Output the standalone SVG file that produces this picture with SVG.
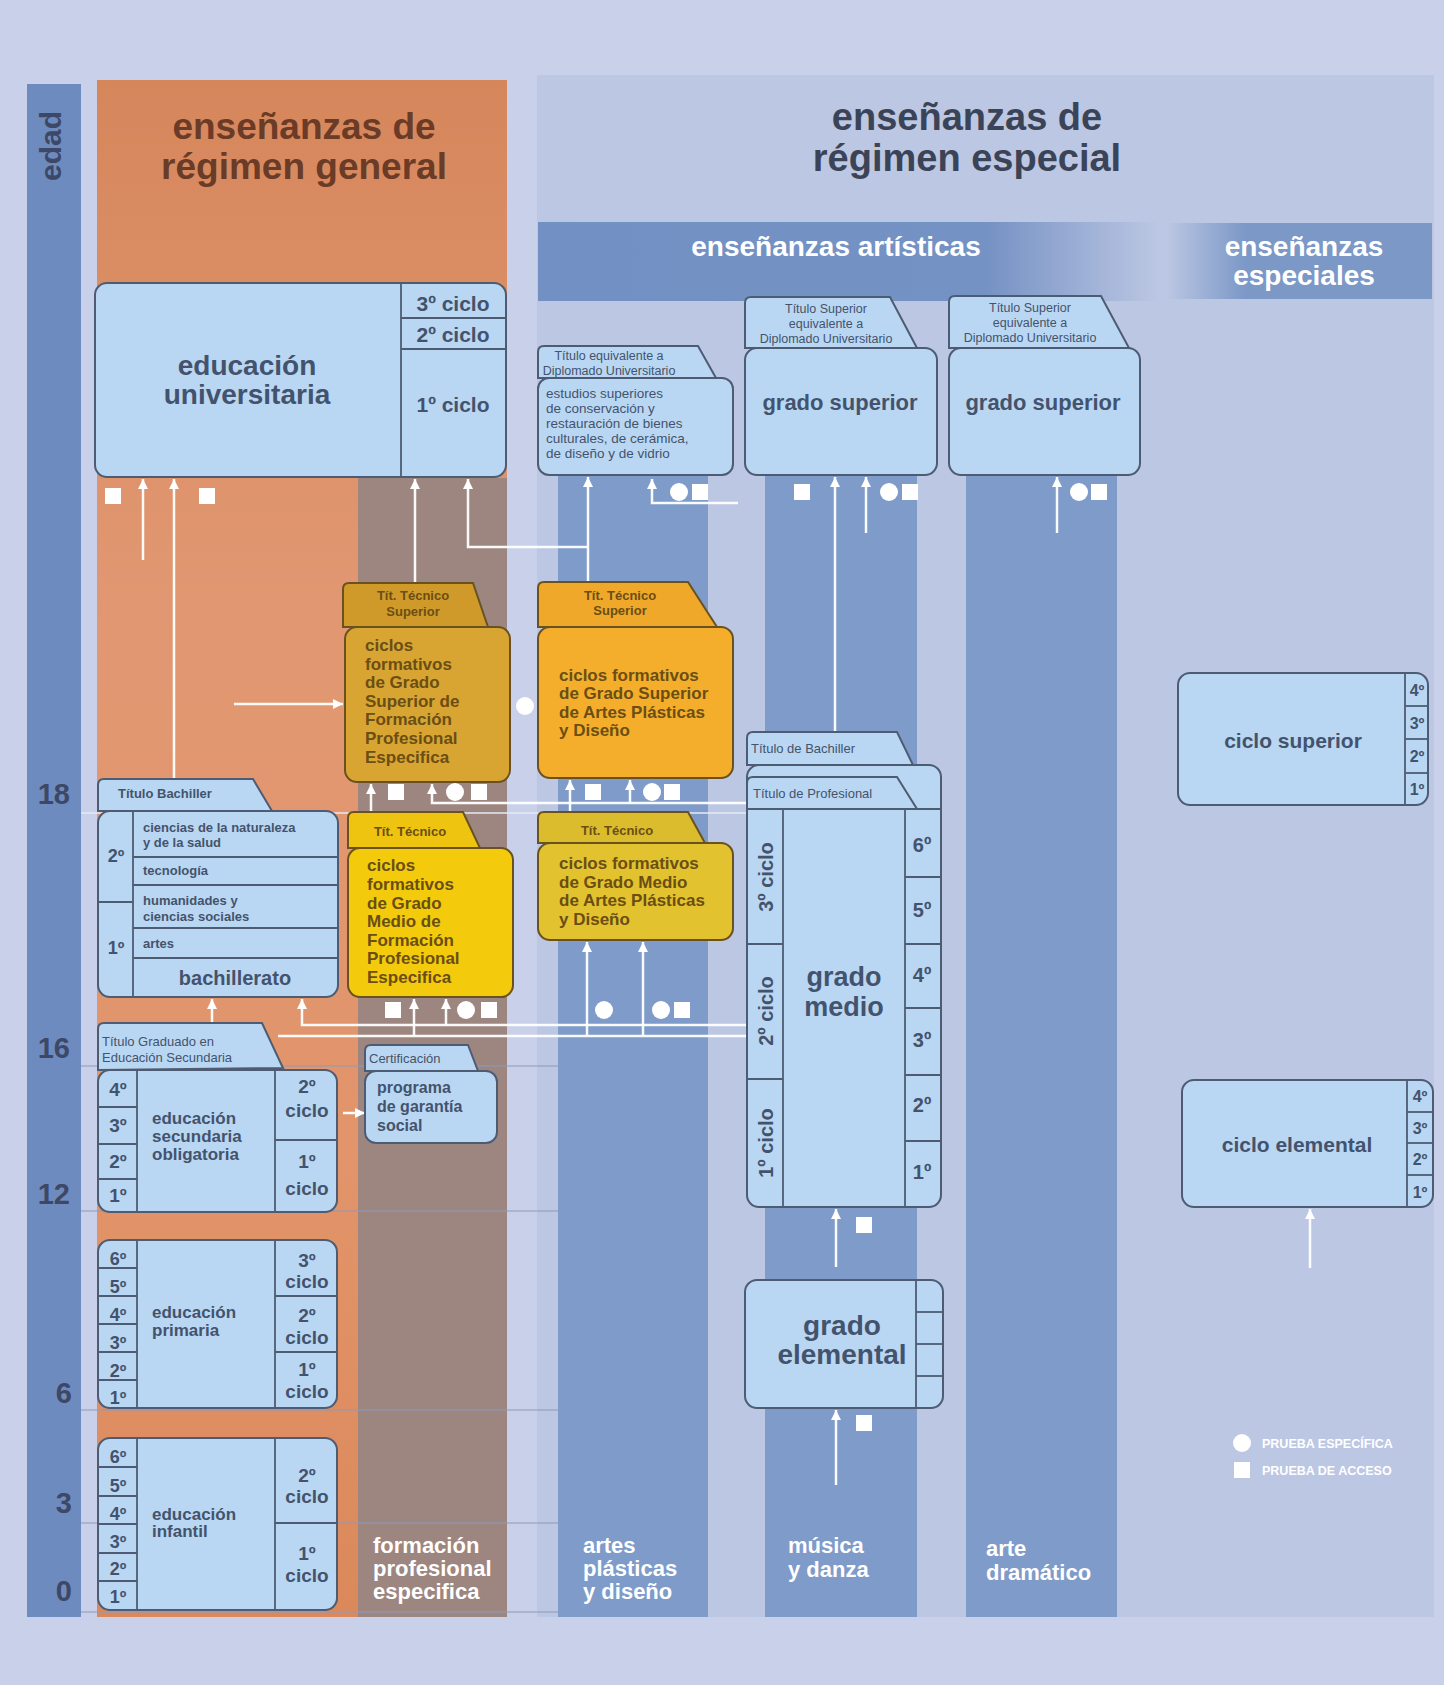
<svg xmlns="http://www.w3.org/2000/svg" width="1444" height="1685" viewBox="0 0 1444 1685">
<defs>
<style>
.t{font-family:"Liberation Sans",Arial,sans-serif;font-weight:bold}
.n{font-family:"Liberation Sans",Arial,sans-serif;font-weight:normal}
.box{fill:#b9d7f2;stroke:#4d5c73;stroke-width:2}
.dv{stroke:#4d5c73;stroke-width:1.8;fill:none}
.dk{fill:#44536d}
.yt{fill:#6a4e14}
.ys{stroke:#6a5220;stroke-width:2}
.wt{fill:#ffffff}
.conn{stroke:#ffffff;stroke-width:2.5;fill:none;stroke-opacity:0.95}
.mk{fill:#ffffff}
.age{stroke:#8e9aba;stroke-width:1.2}
</style>
<linearGradient id="gOr" x1="0" y1="0" x2="0" y2="1">
<stop offset="0" stop-color="#d6865b"/>
<stop offset="0.35" stop-color="#e19872"/>
<stop offset="0.7" stop-color="#e2946a"/>
<stop offset="1" stop-color="#db895b"/>
</linearGradient>
<linearGradient id="gArt" x1="0" y1="0" x2="1" y2="0">
<stop offset="0" stop-color="#7290c3"/>
<stop offset="0.72" stop-color="#7592c4"/>
<stop offset="1" stop-color="#7592c4" stop-opacity="0"/>
</linearGradient>
<linearGradient id="gEsp" x1="0" y1="0" x2="1" y2="0">
<stop offset="0" stop-color="#7b98c7" stop-opacity="0"/>
<stop offset="0.3" stop-color="#7b98c7"/>
<stop offset="1" stop-color="#7b98c7"/>
</linearGradient>
<marker id="ah" markerUnits="userSpaceOnUse" markerWidth="10" markerHeight="10" viewBox="0 0 10 10" refX="10" refY="5" orient="auto">
<path d="M0,0 L10,5 L0,10 z" fill="#ffffff"/>
</marker>
</defs>

<!-- background -->
<rect x="0" y="0" width="1444" height="1685" fill="#c9d0e9"/>
<rect x="537" y="75" width="897" height="1542" fill="#bcc7e3"/>

<!-- edad bar -->
<g id="edad">
<rect x="27" y="84" width="54" height="1533" fill="#6e8bbf"/>
<text class="t" font-size="30" fill="#3c4866" text-anchor="middle" transform="translate(61,146) rotate(-90)">edad</text>
<g class="t" font-size="29" fill="#3c4866" text-anchor="end">
<text x="70" y="804">18</text>
<text x="70" y="1058">16</text>
<text x="70" y="1204">12</text>
<text x="72" y="1403">6</text>
<text x="72" y="1513">3</text>
<text x="72" y="1601">0</text>
</g>
</g>

<!-- general regime column -->
<g id="regimen-general">
<rect x="97" y="80" width="410" height="1537" fill="url(#gOr)"/>
<rect x="358" y="478" width="149" height="1139" fill="#9d8680"/>
<text class="t" font-size="37" fill="#6a3b27" text-anchor="middle" x="304" y="139">enseñanzas de</text>
<text class="t" font-size="37" fill="#6a3b27" text-anchor="middle" x="304" y="179">régimen general</text>
<text class="t wt" font-size="22" x="373" y="1553">formación</text>
<text class="t wt" font-size="22" x="373" y="1576">profesional</text>
<text class="t wt" font-size="22" x="373" y="1599">especifica</text>
</g>

<!-- special regime -->
<g id="regimen-especial">
<text class="t" font-size="38" fill="#3b4356" text-anchor="middle" x="967" y="130">enseñanzas de</text>
<text class="t" font-size="38" fill="#3b4356" text-anchor="middle" x="967" y="171">régimen especial</text>
<rect x="538" y="222" width="622" height="79" fill="url(#gArt)"/>
<text class="t wt" font-size="28" text-anchor="middle" x="836" y="256">enseñanzas artísticas</text>
<rect x="1166" y="223" width="266" height="76" fill="url(#gEsp)"/>
<text class="t wt" font-size="28" text-anchor="middle" x="1304" y="256">enseñanzas</text>
<text class="t wt" font-size="28" text-anchor="middle" x="1304" y="285">especiales</text>
<rect x="558" y="475" width="150" height="1142" fill="#7e9bc9"/>
<rect x="765" y="475" width="152" height="1142" fill="#7e9bc9"/>
<rect x="966" y="475" width="151" height="1142" fill="#7e9bc9"/>
<text class="t wt" font-size="22" x="583" y="1553">artes</text>
<text class="t wt" font-size="22" x="583" y="1576">plásticas</text>
<text class="t wt" font-size="22" x="583" y="1599">y diseño</text>
<text class="t wt" font-size="22" x="788" y="1553">música</text>
<text class="t wt" font-size="22" x="788" y="1577">y danza</text>
<text class="t wt" font-size="22" x="986" y="1556">arte</text>
<text class="t wt" font-size="22" x="986" y="1580">dramático</text>
</g>

<!-- age grid lines -->
<g id="age-lines">
<line class="age" x1="81" y1="1066" x2="558" y2="1066"/>
<line class="age" x1="81" y1="1211" x2="558" y2="1211"/>
<line class="age" x1="81" y1="1410" x2="558" y2="1410"/>
<line class="age" x1="81" y1="1523" x2="558" y2="1523"/>
<line class="age" x1="81" y1="1612" x2="558" y2="1612"/>
<line x1="81" y1="813" x2="747" y2="813" stroke="#e4eaf5" stroke-width="1.5"/>
</g>

<!-- connectors -->
<g id="connectors" class="conn">
<line x1="143" y1="560" x2="143" y2="479" marker-end="url(#ah)"/>
<line x1="174" y1="779" x2="174" y2="479" marker-end="url(#ah)"/>
<line x1="415" y1="583" x2="415" y2="479" marker-end="url(#ah)"/>
<polyline points="588,547 468,547 468,479" marker-end="url(#ah)"/>
<line x1="588" y1="582" x2="588" y2="477" marker-end="url(#ah)"/>
<polyline points="738,503 652,503 652,479" marker-end="url(#ah)"/>
<line x1="835" y1="732" x2="835" y2="477" marker-end="url(#ah)"/>
<line x1="866" y1="533" x2="866" y2="477" marker-end="url(#ah)"/>
<line x1="1057" y1="533" x2="1057" y2="477" marker-end="url(#ah)"/>
<line x1="234" y1="704" x2="343" y2="704" marker-end="url(#ah)"/>
<line x1="371" y1="812" x2="371" y2="784" marker-end="url(#ah)"/>
<polyline points="747,803 432,803 432,784" marker-end="url(#ah)"/>
<line x1="570" y1="812" x2="570" y2="780" marker-end="url(#ah)"/>
<line x1="630" y1="803" x2="630" y2="780" marker-end="url(#ah)"/>
<line x1="212" y1="1023" x2="212" y2="999" marker-end="url(#ah)"/>
<polyline points="747,1025 302,1025 302,999" marker-end="url(#ah)"/>
<line x1="446" y1="1025" x2="446" y2="999" marker-end="url(#ah)"/>
<line x1="747" y1="1036" x2="278" y2="1036"/>
<line x1="414" y1="1036" x2="414" y2="999" marker-end="url(#ah)"/>
<line x1="587" y1="1036" x2="587" y2="942" marker-end="url(#ah)"/>
<line x1="643" y1="1036" x2="643" y2="942" marker-end="url(#ah)"/>
<line x1="343" y1="1113" x2="365" y2="1113" marker-end="url(#ah)"/>
<line x1="836" y1="1267" x2="836" y2="1209" marker-end="url(#ah)"/>
<line x1="836" y1="1485" x2="836" y2="1410" marker-end="url(#ah)"/>
<line x1="1310" y1="1268" x2="1310" y2="1209" marker-end="url(#ah)"/>
</g>

<!-- test markers -->
<g id="markers" class="mk">
<rect x="105" y="488" width="16" height="16"/>
<rect x="199" y="488" width="16" height="16"/>
<circle cx="679" cy="492" r="9"/><rect x="692" y="484" width="16" height="16"/>
<rect x="794" y="484" width="16" height="16"/>
<circle cx="889" cy="492" r="9"/><rect x="902" y="484" width="16" height="16"/>
<circle cx="1079" cy="492" r="9"/><rect x="1091" y="484" width="16" height="16"/>
<circle cx="525" cy="706" r="9"/>
<rect x="388" y="784" width="16" height="16"/>
<circle cx="455" cy="792" r="9"/><rect x="471" y="784" width="16" height="16"/>
<rect x="585" y="784" width="16" height="16"/>
<circle cx="652" cy="792" r="9"/><rect x="664" y="784" width="16" height="16"/>
<rect x="385" y="1002" width="16" height="16"/>
<circle cx="466" cy="1010" r="9"/><rect x="481" y="1002" width="16" height="16"/>
<circle cx="604" cy="1010" r="9"/>
<circle cx="661" cy="1010" r="9"/><rect x="674" y="1002" width="16" height="16"/>
<rect x="856" y="1217" width="16" height="16"/>
<rect x="856" y="1415" width="16" height="16"/>
</g>

<!-- educación universitaria -->
<g id="universitaria">
<rect class="box" x="95" y="283" width="411" height="194" rx="12"/>
<line class="dv" x1="401" y1="283" x2="401" y2="477"/>
<line class="dv" x1="401" y1="318" x2="506" y2="318"/>
<line class="dv" x1="401" y1="349" x2="506" y2="349"/>
<text class="t dk" font-size="28" text-anchor="middle" x="247" y="375">educación</text>
<text class="t dk" font-size="28" text-anchor="middle" x="247" y="404">universitaria</text>
<g class="t dk" font-size="21" text-anchor="middle">
<text x="453" y="311">3º ciclo</text>
<text x="453" y="342">2º ciclo</text>
<text x="453" y="412">1º ciclo</text>
</g>
</g>

<!-- estudios superiores -->
<g id="estudios-superiores">
<path class="box" d="M538,378 L538,352 Q538,346 544,346 L698,346 L716,378 Z"/>
<text class="n dk" font-size="12.5" text-anchor="middle" x="609" y="360">Título equivalente a</text>
<text class="n dk" font-size="12.5" text-anchor="middle" x="609" y="375">Diplomado Universitario</text>
<rect class="box" x="538" y="378" width="195" height="97" rx="11"/>
<g class="n dk" font-size="13.5">
<text x="546" y="398">estudios superiores</text>
<text x="546" y="413">de conservación y</text>
<text x="546" y="428">restauración de bienes</text>
<text x="546" y="443">culturales, de cerámica,</text>
<text x="546" y="458">de diseño y de vidrio</text>
</g>
</g>

<!-- música grado superior -->
<g id="musica-grado-superior">
<path class="box" d="M745,348 L745,303 Q745,297 751,297 L890,297 L917,348 Z"/>
<g class="n dk" font-size="12.5" text-anchor="middle">
<text x="826" y="313">Título Superior</text>
<text x="826" y="328">equivalente a</text>
<text x="826" y="343">Diplomado Universitario</text>
</g>
<rect class="box" x="745" y="348" width="192" height="127" rx="12"/>
<text class="t dk" font-size="22" text-anchor="middle" x="840" y="410">grado superior</text>
</g>

<!-- arte dramático grado superior -->
<g id="dramatico-grado-superior">
<path class="box" d="M949,348 L949,302 Q949,296 955,296 L1101,296 L1129,348 Z"/>
<g class="n dk" font-size="12.5" text-anchor="middle">
<text x="1030" y="312">Título Superior</text>
<text x="1030" y="327">equivalente a</text>
<text x="1030" y="342">Diplomado Universitario</text>
</g>
<rect class="box" x="949" y="348" width="191" height="127" rx="12"/>
<text class="t dk" font-size="22" text-anchor="middle" x="1043" y="410">grado superior</text>
</g>

<!-- FP grado superior -->
<g id="fp-grado-superior">
<path d="M343,627 L343,589 Q343,583 349,583 L473,583 L488,627 Z" fill="#d09a2b" class="ys"/>
<text class="t yt" font-size="13" text-anchor="middle" x="413" y="600">Tít. Técnico</text>
<text class="t yt" font-size="13" text-anchor="middle" x="413" y="616">Superior</text>
<rect x="345" y="627" width="165" height="155" rx="12" fill="#d8a532" class="ys"/>
<g class="t yt" font-size="17">
<text x="365" y="651">ciclos</text>
<text x="365" y="670">formativos</text>
<text x="365" y="688">de Grado</text>
<text x="365" y="707">Superior de</text>
<text x="365" y="725">Formación</text>
<text x="365" y="744">Profesional</text>
<text x="365" y="763">Especifica</text>
</g>
</g>

<!-- artes grado superior -->
<g id="artes-grado-superior">
<path d="M538,627 L538,588 Q538,582 544,582 L688,582 L717,627 Z" fill="#f0a82a" class="ys"/>
<text class="t yt" font-size="13" text-anchor="middle" x="620" y="600">Tít. Técnico</text>
<text class="t yt" font-size="13" text-anchor="middle" x="620" y="615">Superior</text>
<rect x="538" y="627" width="195" height="151" rx="12" fill="#f5ae2c" class="ys"/>
<g class="t yt" font-size="17">
<text x="559" y="681">ciclos formativos</text>
<text x="559" y="699">de Grado Superior</text>
<text x="559" y="718">de Artes Plásticas</text>
<text x="559" y="736">y Diseño</text>
</g>
</g>

<!-- ciclo superior -->
<g id="ciclo-superior">
<rect class="box" x="1178" y="673" width="250" height="132" rx="12"/>
<line class="dv" x1="1405" y1="673" x2="1405" y2="805"/>
<line class="dv" x1="1405" y1="706" x2="1428" y2="706"/>
<line class="dv" x1="1405" y1="739" x2="1428" y2="739"/>
<line class="dv" x1="1405" y1="773" x2="1428" y2="773"/>
<text class="t dk" font-size="21" text-anchor="middle" x="1293" y="748">ciclo superior</text>
<g class="t dk" font-size="16" text-anchor="middle">
<text x="1417" y="696">4º</text>
<text x="1417" y="729">3º</text>
<text x="1417" y="762">2º</text>
<text x="1417" y="795">1º</text>
</g>
</g>

<!-- bachillerato -->
<g id="bachillerato">
<path class="box" d="M98,811 L98,785 Q98,779 104,779 L253,779 L272,811 Z"/>
<text class="t dk" font-size="13" x="118" y="798">Título Bachiller</text>
<rect class="box" x="98" y="811" width="240" height="186" rx="12"/>
<line class="dv" x1="133" y1="811" x2="133" y2="997"/>
<line class="dv" x1="98" y1="902" x2="133" y2="902"/>
<line class="dv" x1="133" y1="857" x2="338" y2="857"/>
<line class="dv" x1="133" y1="885" x2="338" y2="885"/>
<line class="dv" x1="133" y1="928" x2="338" y2="928"/>
<line class="dv" x1="133" y1="958" x2="338" y2="958"/>
<g class="t dk" font-size="13">
<text x="143" y="832">ciencias de la naturaleza</text>
<text x="143" y="847">y de la salud</text>
<text x="143" y="875">tecnología</text>
<text x="143" y="905">humanidades y</text>
<text x="143" y="921">ciencias sociales</text>
<text x="143" y="948">artes</text>
</g>
<text class="t dk" font-size="20" text-anchor="middle" x="235" y="985">bachillerato</text>
<text class="t dk" font-size="18" text-anchor="middle" x="116" y="862">2º</text>
<text class="t dk" font-size="18" text-anchor="middle" x="116" y="954">1º</text>
</g>

<!-- FP grado medio -->
<g id="fp-grado-medio">
<path d="M348,848 L348,818 Q348,812 354,812 L463,812 L480,848 Z" fill="#eec411" class="ys"/>
<text class="t yt" font-size="13" text-anchor="middle" x="410" y="836">Tít. Técnico</text>
<rect x="348" y="848" width="165" height="149" rx="12" fill="#f3cb0c" class="ys"/>
<g class="t yt" font-size="17">
<text x="367" y="871">ciclos</text>
<text x="367" y="890">formativos</text>
<text x="367" y="909">de Grado</text>
<text x="367" y="927">Medio de</text>
<text x="367" y="946">Formación</text>
<text x="367" y="964">Profesional</text>
<text x="367" y="983">Especifica</text>
</g>
</g>

<!-- artes grado medio -->
<g id="artes-grado-medio">
<path d="M538,843 L538,818 Q538,812 544,812 L688,812 L705,843 Z" fill="#dbbc2c" class="ys"/>
<text class="t yt" font-size="13" text-anchor="middle" x="617" y="835">Tít. Técnico</text>
<rect x="538" y="843" width="195" height="97" rx="12" fill="#e2c22e" class="ys"/>
<g class="t yt" font-size="17">
<text x="559" y="869">ciclos formativos</text>
<text x="559" y="888">de Grado Medio</text>
<text x="559" y="906">de Artes Plásticas</text>
<text x="559" y="925">y Diseño</text>
</g>
</g>

<!-- música grado medio -->
<g id="musica-grado-medio">
<path class="box" d="M747,765 L747,738 Q747,732 753,732 L897,732 L913,765 Z"/>
<text class="n dk" font-size="13" x="751" y="753">Título de Bachiller</text>
<rect class="box" x="747" y="765" width="194" height="442" rx="12"/>
<path class="box" d="M747,809 L747,783 Q747,777 753,777 L897,777 L917,809 Z"/>
<text class="n dk" font-size="13" x="753" y="798">Título de Profesional</text>
<line class="dv" x1="747" y1="809" x2="941" y2="809"/>
<line class="dv" x1="783" y1="809" x2="783" y2="1207"/>
<line class="dv" x1="905" y1="809" x2="905" y2="1207"/>
<line class="dv" x1="747" y1="944" x2="783" y2="944"/>
<line class="dv" x1="747" y1="1079" x2="783" y2="1079"/>
<line class="dv" x1="905" y1="877" x2="941" y2="877"/>
<line class="dv" x1="905" y1="944" x2="941" y2="944"/>
<line class="dv" x1="905" y1="1008" x2="941" y2="1008"/>
<line class="dv" x1="905" y1="1075" x2="941" y2="1075"/>
<line class="dv" x1="905" y1="1141" x2="941" y2="1141"/>
<g class="t dk" font-size="20" text-anchor="middle">
<text transform="translate(773,877) rotate(-90)">3º ciclo</text>
<text transform="translate(773,1011) rotate(-90)">2º ciclo</text>
<text transform="translate(773,1143) rotate(-90)">1º ciclo</text>
<text x="922" y="852">6º</text>
<text x="922" y="917">5º</text>
<text x="922" y="982">4º</text>
<text x="922" y="1047">3º</text>
<text x="922" y="1112">2º</text>
<text x="922" y="1179">1º</text>
</g>
<text class="t dk" font-size="27" text-anchor="middle" x="844" y="986">grado</text>
<text class="t dk" font-size="27" text-anchor="middle" x="844" y="1016">medio</text>
</g>

<!-- ESO -->
<g id="eso">
<path class="box" d="M98,1070 L98,1029 Q98,1023 104,1023 L262,1023 L283,1068 Z"/>
<text class="n dk" font-size="13" x="102" y="1046">Título Graduado en</text>
<text class="n dk" font-size="13" x="102" y="1062">Educación Secundaria</text>
<rect class="box" x="98" y="1070" width="239" height="142" rx="12"/>
<line class="dv" x1="137" y1="1070" x2="137" y2="1212"/>
<line class="dv" x1="275" y1="1070" x2="275" y2="1212"/>
<line class="dv" x1="98" y1="1107" x2="137" y2="1107"/>
<line class="dv" x1="98" y1="1144" x2="137" y2="1144"/>
<line class="dv" x1="98" y1="1179" x2="137" y2="1179"/>
<line class="dv" x1="275" y1="1140" x2="337" y2="1140"/>
<g class="t dk" font-size="19" text-anchor="middle">
<text x="118" y="1096">4º</text>
<text x="118" y="1132">3º</text>
<text x="118" y="1168">2º</text>
<text x="118" y="1202">1º</text>
<text x="307" y="1093">2º</text>
<text x="307" y="1117">ciclo</text>
<text x="307" y="1168">1º</text>
<text x="307" y="1195">ciclo</text>
</g>
<g class="t dk" font-size="17">
<text x="152" y="1124">educación</text>
<text x="152" y="1142">secundaria</text>
<text x="152" y="1160">obligatoria</text>
</g>
</g>

<!-- programa de garantía social -->
<g id="garantia-social">
<path class="box" d="M365,1071 L365,1051 Q365,1045 371,1045 L468,1045 L478,1071 Z"/>
<text class="n dk" font-size="13" x="369" y="1063">Certificación</text>
<rect class="box" x="365" y="1071" width="132" height="72" rx="11"/>
<g class="t dk" font-size="16">
<text x="377" y="1093">programa</text>
<text x="377" y="1112">de garantía</text>
<text x="377" y="1131">social</text>
</g>
</g>

<!-- primaria -->
<g id="primaria">
<rect class="box" x="98" y="1240" width="239" height="168" rx="12"/>
<line class="dv" x1="137" y1="1240" x2="137" y2="1408"/>
<line class="dv" x1="275" y1="1240" x2="275" y2="1408"/>
<line class="dv" x1="98" y1="1268" x2="137" y2="1268"/>
<line class="dv" x1="98" y1="1296" x2="137" y2="1296"/>
<line class="dv" x1="98" y1="1324" x2="137" y2="1324"/>
<line class="dv" x1="98" y1="1352" x2="137" y2="1352"/>
<line class="dv" x1="98" y1="1380" x2="137" y2="1380"/>
<line class="dv" x1="275" y1="1296" x2="337" y2="1296"/>
<line class="dv" x1="275" y1="1352" x2="337" y2="1352"/>
<g class="t dk" font-size="18" text-anchor="middle">
<text x="118" y="1265">6º</text>
<text x="118" y="1293">5º</text>
<text x="118" y="1321">4º</text>
<text x="118" y="1349">3º</text>
<text x="118" y="1377">2º</text>
<text x="118" y="1404">1º</text>
</g>
<g class="t dk" font-size="19" text-anchor="middle">
<text x="307" y="1267">3º</text>
<text x="307" y="1288">ciclo</text>
<text x="307" y="1322">2º</text>
<text x="307" y="1344">ciclo</text>
<text x="307" y="1376">1º</text>
<text x="307" y="1398">ciclo</text>
</g>
<text class="t dk" font-size="17" x="152" y="1318">educación</text>
<text class="t dk" font-size="17" x="152" y="1336">primaria</text>
</g>

<!-- infantil -->
<g id="infantil">
<rect class="box" x="98" y="1438" width="239" height="172" rx="12"/>
<line class="dv" x1="137" y1="1438" x2="137" y2="1610"/>
<line class="dv" x1="275" y1="1438" x2="275" y2="1610"/>
<line class="dv" x1="98" y1="1467" x2="137" y2="1467"/>
<line class="dv" x1="98" y1="1496" x2="137" y2="1496"/>
<line class="dv" x1="98" y1="1524" x2="137" y2="1524"/>
<line class="dv" x1="98" y1="1553" x2="137" y2="1553"/>
<line class="dv" x1="98" y1="1581" x2="137" y2="1581"/>
<line class="dv" x1="275" y1="1523" x2="337" y2="1523"/>
<g class="t dk" font-size="18" text-anchor="middle">
<text x="118" y="1463">6º</text>
<text x="118" y="1492">5º</text>
<text x="118" y="1520">4º</text>
<text x="118" y="1548">3º</text>
<text x="118" y="1575">2º</text>
<text x="118" y="1603">1º</text>
</g>
<g class="t dk" font-size="19" text-anchor="middle">
<text x="307" y="1482">2º</text>
<text x="307" y="1503">ciclo</text>
<text x="307" y="1560">1º</text>
<text x="307" y="1582">ciclo</text>
</g>
<text class="t dk" font-size="17" x="152" y="1520">educación</text>
<text class="t dk" font-size="17" x="152" y="1537">infantil</text>
</g>

<!-- grado elemental -->
<g id="grado-elemental">
<rect class="box" x="745" y="1280" width="198" height="128" rx="12"/>
<line class="dv" x1="916" y1="1280" x2="916" y2="1408"/>
<line class="dv" x1="916" y1="1312" x2="943" y2="1312"/>
<line class="dv" x1="916" y1="1344" x2="943" y2="1344"/>
<line class="dv" x1="916" y1="1376" x2="943" y2="1376"/>
<text class="t dk" font-size="28" text-anchor="middle" x="842" y="1335">grado</text>
<text class="t dk" font-size="28" text-anchor="middle" x="842" y="1364">elemental</text>
</g>

<!-- ciclo elemental -->
<g id="ciclo-elemental">
<rect class="box" x="1182" y="1080" width="251" height="127" rx="12"/>
<line class="dv" x1="1407" y1="1080" x2="1407" y2="1207"/>
<line class="dv" x1="1407" y1="1112" x2="1433" y2="1112"/>
<line class="dv" x1="1407" y1="1143" x2="1433" y2="1143"/>
<line class="dv" x1="1407" y1="1175" x2="1433" y2="1175"/>
<text class="t dk" font-size="21" text-anchor="middle" x="1297" y="1152">ciclo elemental</text>
<g class="t dk" font-size="16" text-anchor="middle">
<text x="1420" y="1102">4º</text>
<text x="1420" y="1134">3º</text>
<text x="1420" y="1165">2º</text>
<text x="1420" y="1198">1º</text>
</g>
</g>

<!-- legend -->
<g id="legend">
<circle cx="1242" cy="1443" r="9" fill="#ffffff"/>
<rect x="1234" y="1462" width="16" height="16" fill="#ffffff"/>
<text class="t wt" font-size="12.5" x="1262" y="1448">PRUEBA ESPECÍFICA</text>
<text class="t wt" font-size="12.5" x="1262" y="1475">PRUEBA DE ACCESO</text>
</g>
</svg>
